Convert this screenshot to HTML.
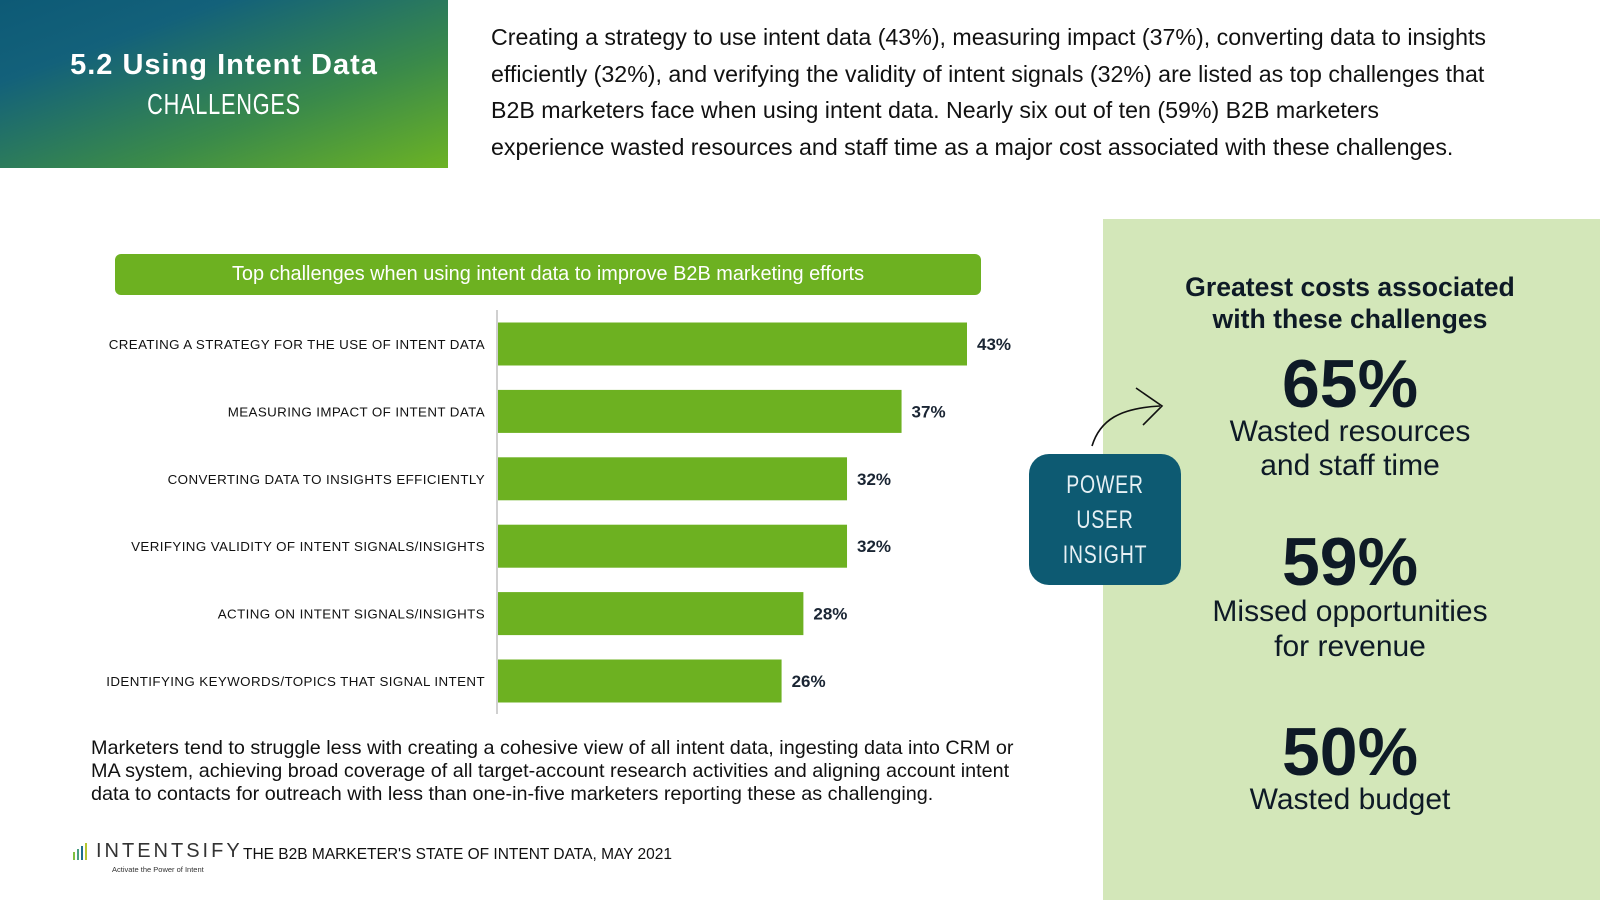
<!DOCTYPE html>
<html><head><meta charset="utf-8"><style>
*{margin:0;padding:0;box-sizing:border-box}
body{width:1600px;height:900px;background:#fff;position:relative;overflow:hidden;font-family:"Liberation Sans",sans-serif;color:#111}
.abs{position:absolute}
#hdr{left:0;top:0;width:448px;height:168px;background:linear-gradient(160deg,#0d5a76 0%,#13617a 25%,#3a8a4a 65%,#6cb324 100%)}
.cond{font-family:"Liberation Sans Narrow","Liberation Sans",sans-serif}
</style></head><body>
<div id="hdr" class="abs">
 <div class="abs" style="left:0;width:448px;top:49px;text-align:center;color:#fff;font-weight:bold;font-size:29px;letter-spacing:1px">5.2 Using Intent Data</div>
 <div class="abs cond" style="left:0;width:448px;top:89px;text-align:center;color:#fff;font-size:29px;letter-spacing:1px;transform:scaleX(0.75)">CHALLENGES</div>
</div>
<div class="abs" style="left:491px;top:19px;width:1001px;font-size:23.2px;line-height:36.7px;color:#111">Creating a strategy to use intent data (43%), measuring impact (37%), converting data to insights efficiently (32%), and verifying the validity of intent signals (32%) are listed as top challenges that B2B marketers face when using intent data. Nearly six out of ten (59%) B2B marketers experience wasted resources and staff time as a major cost associated with these challenges.</div>

<div class="abs" style="left:115px;top:254px;width:866px;height:41px;background:#6db121;border-radius:6px;color:#fff;font-size:19.9px;text-align:center;line-height:41px">Top challenges when using intent data to improve B2B marketing efforts</div>

<svg class="abs" style="left:0;top:0" width="1100" height="900" id="chart"></svg>

<div class="abs" style="left:91px;top:737px;width:935px;font-size:19.8px;line-height:23px;color:#111">Marketers tend to struggle less with creating a cohesive view of all intent data, ingesting data into CRM or MA system, achieving broad coverage of all target-account research activities and aligning account intent data to contacts for outreach with less than one-in-five marketers reporting these as challenging.</div>

<div class="abs" style="left:72px;top:840px">
 <svg width="20" height="20" class="abs" style="left:0;top:2px"><rect x="1" y="10" width="2" height="8" fill="#7fc142"/><rect x="5" y="7" width="2" height="11" fill="#4aa080"/><rect x="9" y="4" width="2" height="14" fill="#1e6f8a"/><rect x="13" y="1" width="2" height="17" fill="#b5c631"/></svg>
 <div class="abs" style="left:24px;top:0;font-size:20px;letter-spacing:3px;color:#333;white-space:nowrap">INTENTSIFY</div>
 <div class="abs" style="left:40px;top:25px;font-size:7.5px;color:#333;white-space:nowrap">Activate the Power of Intent</div>
</div>
<div class="abs" style="left:243px;top:846px;font-size:15.5px;color:#111;white-space:nowrap">THE B2B MARKETER'S STATE OF INTENT DATA, MAY 2021</div>

<div class="abs" style="left:1103px;top:219px;width:497px;height:681px;background:#d3e7b9"></div>
<svg class="abs" style="left:1080px;top:380px" width="90" height="80"><path d="M12 66 C20 40 40 28 80 26" fill="none" stroke="#111" stroke-width="1.6"/><path d="M56 8 L82 26 L63 45" fill="none" stroke="#111" stroke-width="1.6"/></svg>
<div class="abs" style="left:1029px;top:454px;width:152px;height:131px;background:#0d5a72;border-radius:20px">
 <div class="abs cond" style="left:-20px;width:192px;top:14px;color:#e6f0f4;font-size:25px;text-align:center;line-height:35px;letter-spacing:1px;transform:scaleX(0.78)">POWER<br>USER<br>INSIGHT</div>
</div>

<div class="abs" style="left:1150px;width:400px;top:271px;text-align:center;font-weight:bold;font-size:26.6px;line-height:32px;color:#0e1a26">Greatest costs associated<br>with these challenges</div>
<div class="abs" style="left:1150px;width:400px;top:345px;text-align:center;font-weight:bold;font-size:68px;color:#0e1a26">65%</div>
<div class="abs" style="left:1150px;width:400px;top:415px;text-align:center;font-size:30px;line-height:34px;color:#0e1a26">Wasted resources<br>and staff time</div>
<div class="abs" style="left:1150px;width:400px;top:523px;text-align:center;font-weight:bold;font-size:68px;color:#0e1a26">59%</div>
<div class="abs" style="left:1150px;width:400px;top:594px;text-align:center;font-size:30px;line-height:35px;color:#0e1a26">Missed opportunities<br>for revenue</div>
<div class="abs" style="left:1150px;width:400px;top:713px;text-align:center;font-weight:bold;font-size:68px;color:#0e1a26">50%</div>
<div class="abs" style="left:1150px;width:400px;top:783px;text-align:center;font-size:30px;color:#0e1a26">Wasted budget</div>

<script>
const categories=["CREATING A STRATEGY FOR THE USE OF INTENT DATA","MEASURING IMPACT OF INTENT DATA","CONVERTING DATA TO INSIGHTS EFFICIENTLY","VERIFYING VALIDITY OF INTENT SIGNALS/INSIGHTS","ACTING ON INTENT SIGNALS/INSIGHTS","IDENTIFYING KEYWORDS/TOPICS THAT SIGNAL INTENT"];
const values=[43,37,32,32,28,26];
const valueLabels=["43%","37%","32%","32%","28%","26%"];
const NS="http://www.w3.org/2000/svg";
const svg=document.getElementById('chart');
const x0=498,pxPer=(967-498)/43;
const xs=v=>x0+v*pxPer;
const y0=344,step=67.4,bh=43;
const ys=i=>y0+i*step;
const axis=document.createElementNS(NS,'line');
axis.setAttribute('x1',497);axis.setAttribute('x2',497);axis.setAttribute('y1',310);axis.setAttribute('y2',714);
axis.setAttribute('stroke','#d0d0d0');axis.setAttribute('stroke-width','2');


svg.appendChild(axis);
categories.forEach((c,i)=>{
 const r=document.createElementNS(NS,'rect');
 r.setAttribute('x',x0);r.setAttribute('y',ys(i)-bh/2);r.setAttribute('width',xs(values[i])-x0);r.setAttribute('height',bh);r.setAttribute('fill','#6db121');
 
 
 svg.appendChild(r);
 const t=document.createElementNS(NS,'text');
 t.setAttribute('x',485);t.setAttribute('y',ys(i)+5);t.setAttribute('text-anchor','end');t.setAttribute('font-size','13.35');t.setAttribute('fill','#111');t.setAttribute('font-family','Liberation Sans, sans-serif');t.setAttribute('letter-spacing','0.4');
 t.textContent=c;
 
 
 svg.appendChild(t);
 const v=document.createElementNS(NS,'text');
 v.setAttribute('x',xs(values[i])+10);v.setAttribute('y',ys(i)+6);v.setAttribute('font-size','17');v.setAttribute('font-weight','bold');v.setAttribute('fill','#1a2533');v.setAttribute('font-family','Liberation Sans, sans-serif');
 v.textContent=valueLabels[i];
 
 
 svg.appendChild(v);
});
</script>
</body></html>
